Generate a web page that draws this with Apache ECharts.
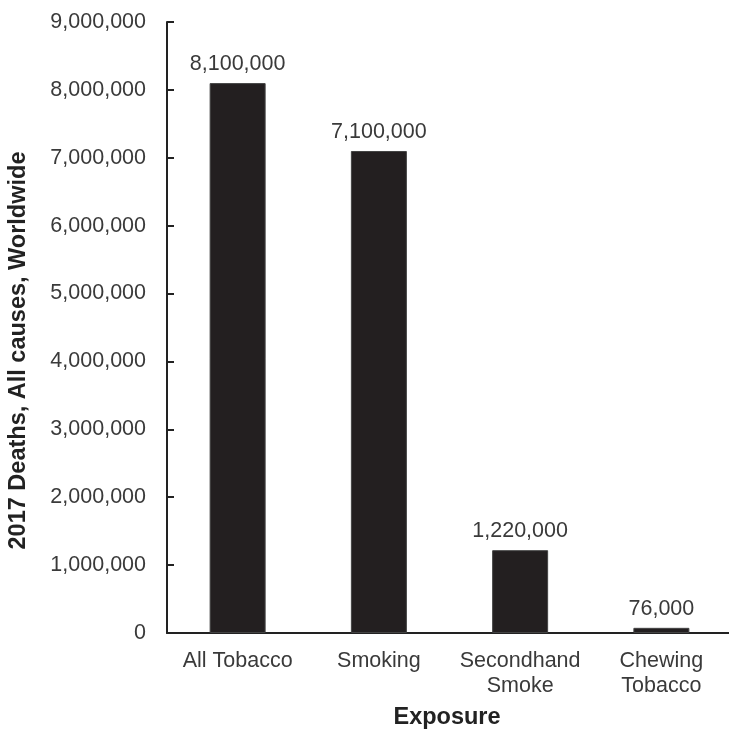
<!DOCTYPE html>
<html><head><meta charset="utf-8">
<script src="https://cdn.jsdelivr.net/npm/echarts@6/dist/echarts.min.js"></script>
<style>html,body{margin:0;padding:0;background:#fff}#c{width:729px;height:729px}</style>
</head><body><div id="c"></div>
<script>
const categories = ["All Tobacco", "Smoking", "Secondhand\nSmoke", "Chewing\nTobacco"];
const deaths = [8100000, 7100000, 1220000, 76000];
const yTickStep = 1000000;
const yMax = 9000000;

const fmt = v => v.toLocaleString('en-US');
const chart = echarts.init(document.getElementById('c'));
chart.setOption({
  animation: false,
  textStyle: { fontFamily: 'Liberation Sans, Arial, sans-serif' },
  grid: { left: 167, top: 22, width: 565, height: 611, outerBoundsMode: 'none' },
  xAxis: {
    type: 'category', data: categories,
    name: 'Exposure', nameLocation: 'middle', nameGap: 73,
    nameTextStyle: { fontSize: 23.5, fontWeight: 'bold', color: '#222', padding: [0, 5, 0, 0] },
    axisLine: { lineStyle: { color: '#222', width: 2 } },
    axisTick: { show: false },
    axisLabel: { interval: 0, fontSize: 21.5, color: '#3a3a3a', margin: 16, lineHeight: 25 }
  },
  yAxis: {
    type: 'value', min: 0, max: yMax, interval: yTickStep,
    name: '2017 Deaths, All causes, Worldwide', nameLocation: 'middle', nameGap: 136,
    nameTextStyle: { fontSize: 23.5, fontWeight: 'bold', color: '#222', padding: [0, 46, 0, 0] },
    axisLine: { show: true, lineStyle: { color: '#222', width: 2 } },
    axisTick: { show: true, inside: true, length: 7, lineStyle: { color: '#222', width: 2 } },
    splitLine: { show: false },
    axisLabel: { fontSize: 21.5, color: '#3a3a3a', margin: 21, formatter: fmt }
  },
  series: [{
    type: 'bar', data: deaths, barWidth: 56,
    itemStyle: { color: '#231f20', borderColor: '#444', borderWidth: 1 },
    label: { show: true, position: 'top', distance: 8, fontSize: 21.5, color: '#3a3a3a', formatter: p => fmt(p.value) }
  }]
});
</script></body></html>
